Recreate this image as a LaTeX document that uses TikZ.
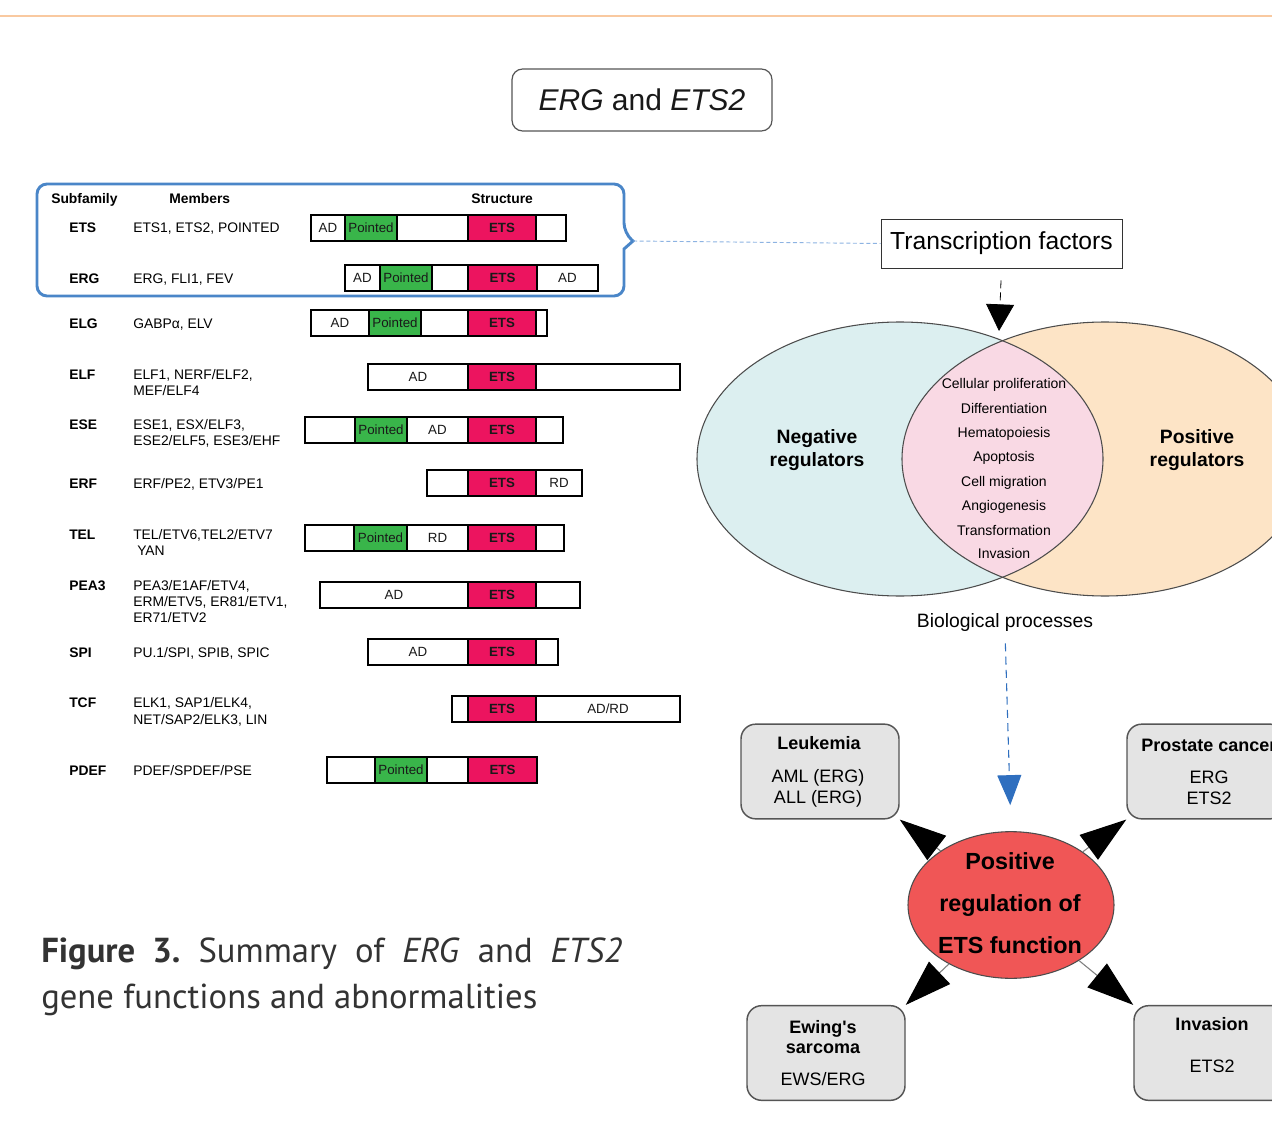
\documentclass[tikz,border=0pt]{standalone}
\usepackage{fontspec}
\setmainfont{Liberation Sans}
\newfontfamily\capfont{PT Sans}
\usetikzlibrary{arrows.meta,shapes.geometric,calc}
\definecolor{orangeline}{HTML}{F9C9A0}
\definecolor{bracketblue}{HTML}{4A86C8}
\definecolor{linkblue}{HTML}{8DB3E2}
\definecolor{domgreen}{HTML}{39B54A}
\definecolor{dompink}{HTML}{EC145F}
\definecolor{vennleft}{HTML}{DCEFF0}
\definecolor{vennright}{HTML}{FDE4C6}
\definecolor{vennlens}{HTML}{F9D9E4}
\definecolor{redell}{HTML}{F05656}
\definecolor{grayfill}{HTML}{E4E4E4}
\definecolor{arrblue}{HTML}{2F6FBF}
\definecolor{captext}{HTML}{333333}
\definecolor{boxline}{HTML}{555555}
\newcounter{segc}
\newcommand{\seg}[5]{\stepcounter{segc}\node[segbox,#4,minimum width={(#2-#1)*0.75pt}] (seg-\arabic{segc}) at ({(#1+#2)/2},#3) {#5};}
\begin{document}
\begin{tikzpicture}[x=0.75pt,y=-0.75pt,
  segbox/.style={draw=black,line width=1.65pt,minimum height=19.5pt,inner sep=0pt,outer sep=0pt,font=\fontsize{10}{12}\selectfont,text=black!90},
  wseg/.style={fill=white},
  gseg/.style={fill=domgreen},
  pseg/.style={fill=dompink,font=\fontsize{10}{12}\selectfont\bfseries},
  hdr/.style={anchor=base west,inner sep=0pt,font=\fontsize{10.4}{12.5}\selectfont\bfseries},
  lab/.style={anchor=base west,inner sep=0pt,font=\fontsize{10.4}{12.5}\selectfont\bfseries},
  mem/.style={anchor=base west,inner sep=0pt,font=\fontsize{10.4}{12.5}\selectfont},
  lens/.style={anchor=base,inner sep=0pt,font=\fontsize{10.5}{12.5}\selectfont},
  reg/.style={anchor=base,inner sep=0pt,font=\fontsize{14.5}{17}\selectfont\bfseries},
  gbox/.style={draw=boxline,line width=1.1pt,fill=grayfill,rounded corners=11pt,minimum width=118.5pt,minimum height=71pt,inner sep=0pt},
  btitle/.style={anchor=base,inner sep=0pt,font=\fontsize{13.5}{16}\selectfont\bfseries},
  btext/.style={anchor=base,inner sep=0pt,font=\fontsize{13.5}{16}\selectfont},
  eltext/.style={anchor=base,inner sep=0pt,font=\fontsize{17.5}{21}\selectfont\bfseries},
  bigarr/.style={draw=gray,line width=0.8pt,-{Triangle[length=35pt,width=23pt,color=black]}},
  captxt/.style={anchor=base west,inner sep=0pt,text=captext,font=\capfont\fontsize{26}{30}\selectfont\frenchspacing},
]
\useasboundingbox (0,0) rectangle (1272,1127);
\fill[white] (0,0) rectangle (1272,1127);
\clip (0,0) rectangle (1272,1127);

% top rule
\draw[orangeline,line width=1.5pt] (0,16) -- (1272,16);

% title
\node[draw=boxline,line width=0.9pt,rounded corners=8pt,minimum width=195pt,minimum height=46.5pt,inner sep=0pt,font=\fontsize{22.5}{26}\selectfont,text=black!90] (title) at (642,100) {\textit{ERG} and \textit{ETS2}};

% bracket box around ETS and ERG rows
\draw[bracketblue,line width=2.2pt] (37,240) [rounded corners=7.5pt] -- (37,184) -- (624,184) -- (624,233) [sharp corners] -- (633,241) -- (624,249) [rounded corners=7.5pt] -- (624,296) -- (37,296) [sharp corners] -- cycle;
\coordinate (notch) at (633,241);

% headers
\node[hdr] (h-sub) at (51,204) {Subfamily};
\node[hdr] (h-mem) at (169,204) {Members};
\node[hdr] (h-str) at (471,204) {Structure};

% labels and members
\node[lab] (l-ets) at (69,233) {ETS};
\node[mem] (m-ets) at (133,233) {ETS1, ETS2, POINTED};
\node[lab] (l-erg) at (69,283) {ERG};
\node[mem] (m-erg) at (133,283) {ERG, FLI1, FEV};
\node[lab] (l-elg) at (69,329) {ELG};
\node[mem] (m-elg) at (133,329) {GABPα, ELV};
\node[lab] (l-elf) at (69,379) {ELF};
\node[mem] (m-elf-a) at (133,379) {ELF1, NERF/ELF2,};
\node[mem] (m-elf-b) at (133,395) {MEF/ELF4};
\node[lab] (l-ese) at (69,429) {ESE};
\node[mem] (m-ese-a) at (133,429) {ESE1, ESX/ELF3,};
\node[mem] (m-ese-b) at (133,445) {ESE2/ELF5, ESE3/EHF};
\node[lab] (l-erf) at (69,488) {ERF};
\node[mem] (m-erf) at (133,488) {ERF/PE2, ETV3/PE1};
\node[lab] (l-tel) at (69,539) {TEL};
\node[mem] (m-tel-a) at (133,539) {TEL/ETV6,TEL2/ETV7};
\node[mem] (m-tel-b) at (137,555) {YAN};
\node[lab] (l-pea) at (69,590) {PEA3};
\node[mem] (m-pea-a) at (133,590) {PEA3/E1AF/ETV4,};
\node[mem] (m-pea-b) at (133,606) {ERM/ETV5, ER81/ETV1,};
\node[mem] (m-pea-c) at (133,622) {ER71/ETV2};
\node[lab] (l-spi) at (69,657) {SPI};
\node[mem] (m-spi) at (133,657) {PU.1/SPI, SPIB, SPIC};
\node[lab] (l-tcf) at (69,707) {TCF};
\node[mem] (m-tcf-a) at (133,707) {ELK1, SAP1/ELK4,};
\node[mem] (m-tcf-b) at (133,724) {NET/SAP2/ELK3, LIN};
\node[lab] (l-pdef) at (69,775) {PDEF};
\node[mem] (m-pdef) at (133,775) {PDEF/SPDEF/PSE};

% structures
\seg{311}{345}{228}{wseg}{AD}\seg{345}{397}{228}{gseg}{Pointed}\seg{397}{468}{228}{wseg}{}\seg{468}{536}{228}{pseg}{ETS}\seg{536}{566}{228}{wseg}{}
\seg{345}{380}{278}{wseg}{AD}\seg{380}{432}{278}{gseg}{Pointed}\seg{432}{468}{278}{wseg}{}\seg{468}{537}{278}{pseg}{ETS}\seg{537}{598}{278}{wseg}{AD}
\seg{311}{369}{323}{wseg}{AD}\seg{369}{421}{323}{gseg}{Pointed}\seg{421}{468}{323}{wseg}{}\seg{468}{536}{323}{pseg}{ETS}\seg{536}{547}{323}{wseg}{}
\seg{368}{468}{377}{wseg}{AD}\seg{468}{536}{377}{pseg}{ETS}\seg{536}{680}{377}{wseg}{}
\seg{305}{355}{430}{wseg}{}\seg{355}{407}{430}{gseg}{Pointed}\seg{407}{468}{430}{wseg}{AD}\seg{468}{536}{430}{pseg}{ETS}\seg{536}{563}{430}{wseg}{}
\seg{427}{468}{483}{wseg}{}\seg{468}{536}{483}{pseg}{ETS}\seg{536}{582}{483}{wseg}{RD}
\seg{305}{354}{538}{wseg}{}\seg{354}{407}{538}{gseg}{Pointed}\seg{407}{468}{538}{wseg}{RD}\seg{468}{536}{538}{pseg}{ETS}\seg{536}{564}{538}{wseg}{}
\seg{320}{468}{595}{wseg}{AD}\seg{468}{536}{595}{pseg}{ETS}\seg{536}{580}{595}{wseg}{}
\seg{368}{468}{652}{wseg}{AD}\seg{468}{536}{652}{pseg}{ETS}\seg{536}{558}{652}{wseg}{}
\seg{452}{468}{709}{wseg}{}\seg{468}{536}{709}{pseg}{ETS}\seg{536}{680}{709}{wseg}{AD/RD}
\seg{327}{375}{770}{wseg}{}\seg{375}{427}{770}{gseg}{Pointed}\seg{427}{468}{770}{wseg}{}\seg{468}{537}{770}{pseg}{ETS}

% transcription factors
\node[draw=black!80,line width=0.7pt,minimum width=180.75pt,minimum height=36.75pt,inner sep=0pt,font=\fontsize{18.5}{22}\selectfont] (tf) at (1001.5,243.5) {Transcription factors};
\draw[linkblue,line width=0.7pt,dash pattern=on 3pt off 2pt] (notch) -- (tf.west);

% Venn
\fill[vennleft] (900,459) ellipse [x radius=203,y radius=137];
\fill[vennright] (1105,459) ellipse [x radius=203,y radius=137];
\begin{scope}
\clip (900,459) ellipse [x radius=203,y radius=137];
\fill[vennlens] (1105,459) ellipse [x radius=203,y radius=137];
\end{scope}
\draw[black!70,line width=0.8pt] (900,459) ellipse [x radius=203,y radius=137];
\draw[black!70,line width=0.8pt] (1105,459) ellipse [x radius=203,y radius=137];
\coordinate (vtop) at (999,331);
\draw[black,line width=0.6pt,dash pattern=on 6pt off 3pt,shorten <=9pt,-{Triangle[length=20pt,width=21pt]}] (tf.south) -- (vtop);

\node[lens] (p1) at (1004,388) {Cellular proliferation};
\node[lens] (p2) at (1004,413) {Differentiation};
\node[lens] (p3) at (1004,437) {Hematopoiesis};
\node[lens] (p4) at (1004,461) {Apoptosis};
\node[lens] (p5) at (1004,486) {Cell migration};
\node[lens] (p6) at (1004,510) {Angiogenesis};
\node[lens] (p7) at (1004,535) {Transformation};
\node[lens] (p8) at (1004,558) {Invasion};
\node[reg] (neg-a) at (817,443) {Negative};
\node[reg] (neg-b) at (817,466) {regulators};
\node[reg] (pos-a) at (1197,443) {Positive};
\node[reg] (pos-b) at (1197,466) {regulators};
\node[anchor=base,inner sep=0pt,font=\fontsize{14.5}{17}\selectfont] (bio) at (1005,627) {Biological processes};

% central ellipse
\node[ellipse,draw=black!70,line width=0.8pt,fill=redell,minimum width=154.5pt,minimum height=110pt,inner sep=0pt] (ell) at (1011,905) {};
\node[eltext] (e1) at (1010,869) {Positive};
\node[eltext] (e2) at (1010,911) {regulation of};
\node[eltext] (e3) at (1010,953) {ETS function};

\draw[arrblue,line width=0.8pt,dash pattern=on 6pt off 4pt,shorten <=9pt,shorten >=19.5pt,-{Triangle[length=22.5pt,width=18pt]}] (bio.south) -- (ell.north);

% disease boxes
\node[gbox] (leuk) at (820,771.5) {};
\node[gbox] (pros) at (1206,771.5) {};
\node[gbox] (ewing) at (826,1053) {};
\node[gbox] (inva) at (1213,1053) {};

\node[btitle] (leuk-t) at (819,749.5) {Leukemia};
\node[btext] (leuk-a) at (818,782) {AML (ERG)};
\node[btext] (leuk-b) at (818,803) {ALL (ERG)};
\node[btitle,anchor=base west] (pros-t) at (1141,751) {Prostate cancer};
\node[btext] (pros-a) at (1209,783) {ERG};
\node[btext] (pros-b) at (1209,804) {ETS2};
\node[btitle] (ewing-t) at (823,1033) {Ewing\textquotesingle s};
\node[btitle] (ewing-u) at (823,1053) {sarcoma};
\node[btext] (ewing-a) at (823,1085.5) {EWS/ERG};
\node[btitle] (inva-t) at (1212,1030.5) {Invasion};
\node[btext] (inva-a) at (1212,1072.5) {ETS2};

\draw[bigarr] (ell) -- (leuk.south east);
\draw[bigarr] (ell) -- (pros.south west);
\draw[bigarr] (ell) -- (ewing.north east);
\draw[bigarr] (ell) -- (inva.north west);

% caption
\node[captxt] (cap1) at (41,962) {\makebox[435.75pt][s]{\textbf{Figure 3.} Summary of \textit{ERG} and \textit{ETS2}}};
\node[captxt] (cap2) at (41,1008) {gene functions and abnormalities};
\end{tikzpicture}
\end{document}
